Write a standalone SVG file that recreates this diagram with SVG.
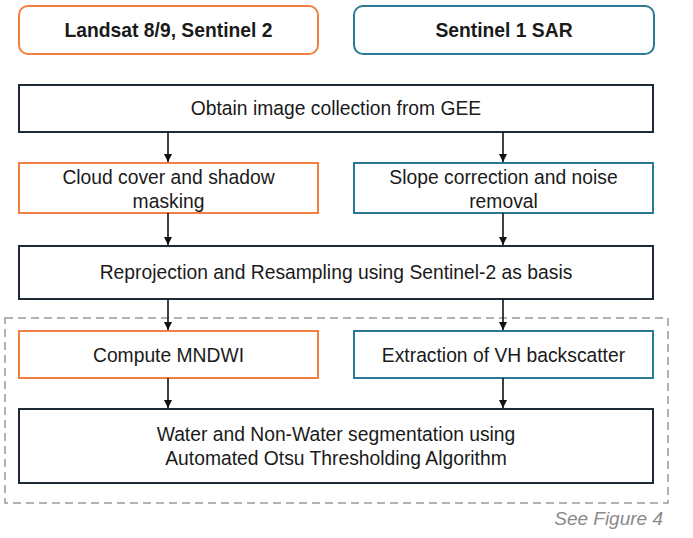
<svg xmlns="http://www.w3.org/2000/svg" width="693" height="538" viewBox="0 0 693 538">
<defs>
<marker id="ah" viewBox="0 0 10 10" refX="10" refY="5" markerWidth="8" markerHeight="9" orient="auto" markerUnits="userSpaceOnUse">
<path d="M0,0 L10,5 L0,10 z" fill="#111"/>
</marker>
<style>
text{font-family:"Liberation Sans",Arial,sans-serif;font-size:19.3px;fill:#1a1a1a;text-anchor:middle}
.b{font-weight:bold}
.or{fill:#fff;stroke:#F0803F;stroke-width:2}
.tl{fill:#fff;stroke:#2B7897;stroke-width:2}
.dk{fill:#fff;stroke:#1E2A36;stroke-width:2}
.ar{stroke:#111;stroke-width:1.6;fill:none;marker-end:url(#ah)}
.note{font-style:italic;fill:#8a8a8a;text-anchor:end;font-size:19px}
</style>
</defs>
<rect width="693" height="538" fill="#fff"/>
<rect x="5" y="318" width="663" height="185" fill="none" stroke="#999" stroke-width="1.5" stroke-dasharray="8,5"/>
<g id="n_landsat"><rect class="or" x="19" y="6" width="299" height="48" rx="9"/><text class="b" x="168.5" y="37">Landsat 8/9, Sentinel 2</text></g>
<g id="n_s1"><rect class="tl" x="354" y="6" width="300" height="48" rx="9"/><text class="b" x="504" y="37">Sentinel 1 SAR</text></g>
<g id="n_obtain"><rect class="dk" x="19" y="85" width="634" height="47"/><text x="336" y="115">Obtain image collection from GEE</text></g>
<g id="n_cloud"><rect class="or" x="19" y="163" width="299" height="50"/><text x="168.5" y="184">Cloud cover and shadow</text><text x="168.5" y="208">masking</text></g>
<g id="n_slope"><rect class="tl" x="354" y="163" width="299" height="50"/><text x="503.5" y="184">Slope correction and noise</text><text x="503.5" y="208">removal</text></g>
<g id="n_reproj"><rect class="dk" x="19" y="246" width="634" height="53"/><text x="336" y="279">Reprojection and Resampling using Sentinel-2 as basis</text></g>
<g id="n_mndwi"><rect class="or" x="19" y="331" width="299" height="47"/><text x="168.5" y="362">Compute MNDWI</text></g>
<g id="n_vh"><rect class="tl" x="354" y="331" width="299" height="47"/><text x="503.5" y="362">Extraction of VH backscatter</text></g>
<g id="n_water"><rect class="dk" x="19" y="409" width="634" height="74"/><text x="336" y="441">Water and Non-Water segmentation using</text><text x="336" y="465">Automated Otsu Thresholding Algorithm</text></g>
<g id="connectors">
<line class="ar" x1="168" y1="132" x2="168" y2="162"/>
<line class="ar" x1="503" y1="132" x2="503" y2="162"/>
<line class="ar" x1="168" y1="213" x2="168" y2="245"/>
<line class="ar" x1="503" y1="213" x2="503" y2="245"/>
<line class="ar" x1="168" y1="299" x2="168" y2="330"/>
<line class="ar" x1="503" y1="299" x2="503" y2="330"/>
<line class="ar" x1="168" y1="378" x2="168" y2="408"/>
<line class="ar" x1="503" y1="378" x2="503" y2="408"/>
</g>
<text class="note" x="663" y="525">See Figure 4</text>
</svg>
